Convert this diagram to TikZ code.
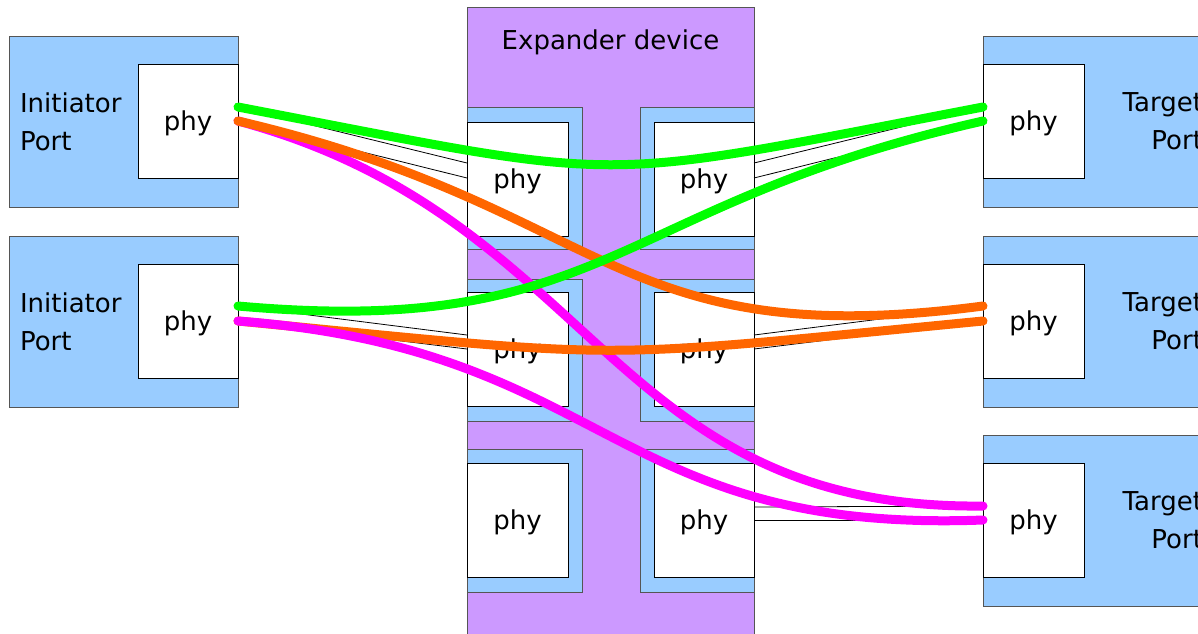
\documentclass[tikz,border=0pt]{standalone}
\usepackage{fontspec}
\setmainfont{DejaVu Sans}
\definecolor{portblue}{HTML}{99CCFF}
\definecolor{exppurple}{HTML}{CC99FF}
\definecolor{edgegray}{HTML}{555555}
\definecolor{lgreen}{HTML}{00FF00}
\definecolor{lorange}{HTML}{FF6600}
\definecolor{lmagenta}{HTML}{FF00FF}
\begin{document}
\begin{tikzpicture}[x=1pt,y=-1pt,
  txt/.style={font=\fontsize{26}{38}\selectfont, inner sep=0pt, outer sep=0pt},
  base/.style={line width=1pt, inner sep=0pt, outer sep=0pt, anchor=north west},
  portbox/.style={base, draw=edgegray, fill=portblue},
  framebox/.style={base, draw=edgegray, fill=portblue},
  expbox/.style={base, draw=edgegray, fill=exppurple},
  phybox/.style={base, draw=black, fill=white, font=\fontsize{26}{38}\selectfont, text height=24pt, text depth=6pt},
  wire/.style={draw=black, line width=0.8pt},
  link/.style={line width=9pt, line cap=round}
]
\useasboundingbox (0,0) rectangle (1198,633);
\clip (0,0) rectangle (1198,633);

% Initiator ports
\node[portbox, minimum width=229pt, minimum height=171pt] (ip1) at (9,36) {};
\node[phybox, minimum width=100pt, minimum height=114pt] (ip1p) at (138,64) {phy};
\node[txt, anchor=west, align=left] (ip1t) at (20,121.5) {Initiator\\Port};
\node[portbox, minimum width=229pt, minimum height=171pt] (ip2) at (9,236) {};
\node[phybox, minimum width=100pt, minimum height=114pt] (ip2p) at (138,264) {phy};
\node[txt, anchor=west, align=left] (ip2t) at (20,321.5) {Initiator\\Port};

% Target ports
\node[portbox, minimum width=229pt, minimum height=171pt] (tp1) at (983,36) {};
\node[phybox, minimum width=101pt, minimum height=114pt] (tp1p) at (983,64) {phy};
\node[txt, anchor=east, align=right] (tp1t) at (1203,121.5) {Target\\Port};
\node[portbox, minimum width=229pt, minimum height=171pt] (tp2) at (983,236) {};
\node[phybox, minimum width=101pt, minimum height=114pt] (tp2p) at (983,264) {phy};
\node[txt, anchor=east, align=right] (tp2t) at (1203,321.5) {Target\\Port};
\node[portbox, minimum width=229pt, minimum height=171pt] (tp3) at (983,435) {};
\node[phybox, minimum width=101pt, minimum height=114pt] (tp3p) at (983,463) {phy};
\node[txt, anchor=east, align=right] (tp3t) at (1203,520.5) {Target\\Port};

% Expander
\node[expbox, minimum width=287pt, minimum height=700pt] (exp) at (467,7) {};
\node[txt, anchor=base] (expt) at (610.5,49) {Expander device};

\node[framebox, minimum width=115pt, minimum height=142pt] (fL1) at (467,107) {};
\node[framebox, minimum width=114pt, minimum height=142pt] (fR1) at (640,107) {};
\node[framebox, minimum width=115pt, minimum height=142pt] (fL2) at (467,279) {};
\node[framebox, minimum width=114pt, minimum height=142pt] (fR2) at (640,279) {};
\node[framebox, minimum width=115pt, minimum height=143pt] (fL3) at (467,449) {};
\node[framebox, minimum width=114pt, minimum height=143pt] (fR3) at (640,449) {};

\node[phybox, minimum width=101pt, minimum height=114pt] (eL1) at (467,122) {phy};
\node[phybox, minimum width=100pt, minimum height=114pt] (eR1) at (654,122) {phy};
\node[phybox, minimum width=101pt, minimum height=114pt] (eL2) at (467,292) {phy};
\node[phybox, minimum width=100pt, minimum height=114pt] (eR2) at (654,292) {phy};
\node[phybox, minimum width=101pt, minimum height=114pt] (eL3) at (467,463) {phy};
\node[phybox, minimum width=100pt, minimum height=114pt] (eR3) at (654,463) {phy};

% connection points
\coordinate (i1a) at (238,107); \coordinate (i1b) at (238,121);
\coordinate (i2a) at (238,306); \coordinate (i2b) at (238,321);
\coordinate (t1a) at (983,107); \coordinate (t1b) at (983,121);
\coordinate (t2a) at (983,306); \coordinate (t2b) at (983,321);
\coordinate (t3a) at (983,506); \coordinate (t3b) at (983,520);
\coordinate (eL1a) at (467,163); \coordinate (eL1b) at (467,178);
\coordinate (eR1a) at (754,163); \coordinate (eR1b) at (754,178);
\coordinate (eL2a) at (467,335); \coordinate (eL2b) at (467,349);
\coordinate (eR2a) at (754,335); \coordinate (eR2b) at (754,349);
\coordinate (eR3a) at (754,507); \coordinate (eR3b) at (754,520);

% physical wires
\draw[wire] (i1a) -- (eL1a);
\draw[wire] (i1b) -- (eL1b);
\draw[wire] (eR1a) -- (t1a);
\draw[wire] (eR1b) -- (t1b);
\draw[wire] (i2a) -- (eL2a);
\draw[wire] (i2b) -- (eL2b);
\draw[wire] (eR2a) -- (t2a);
\draw[wire] (eR2b) -- (t2b);
\draw[wire] (eR3a) -- (t3a);
\draw[wire] (eR3b) -- (t3b);

% logical links
\draw[link, lmagenta] (i1b) .. controls (598,218) and (608,510) .. (t3a);
\draw[link, lorange] (i2b) .. controls (640,360) and (581,360) .. (t2b);
\draw[link, lorange] (i1b) .. controls (611,208) and (611,355) .. (t2a);
\draw[link, lmagenta] (i2b) .. controls (610,349) and (610,534) .. (t3b);
\draw[link, lgreen] (i1a) .. controls (640,184) and (581,184) .. (t1a);
\draw[link, lgreen] (i2a) .. controls (610,339) and (610,205) .. (t1b);
\end{tikzpicture}
\end{document}
